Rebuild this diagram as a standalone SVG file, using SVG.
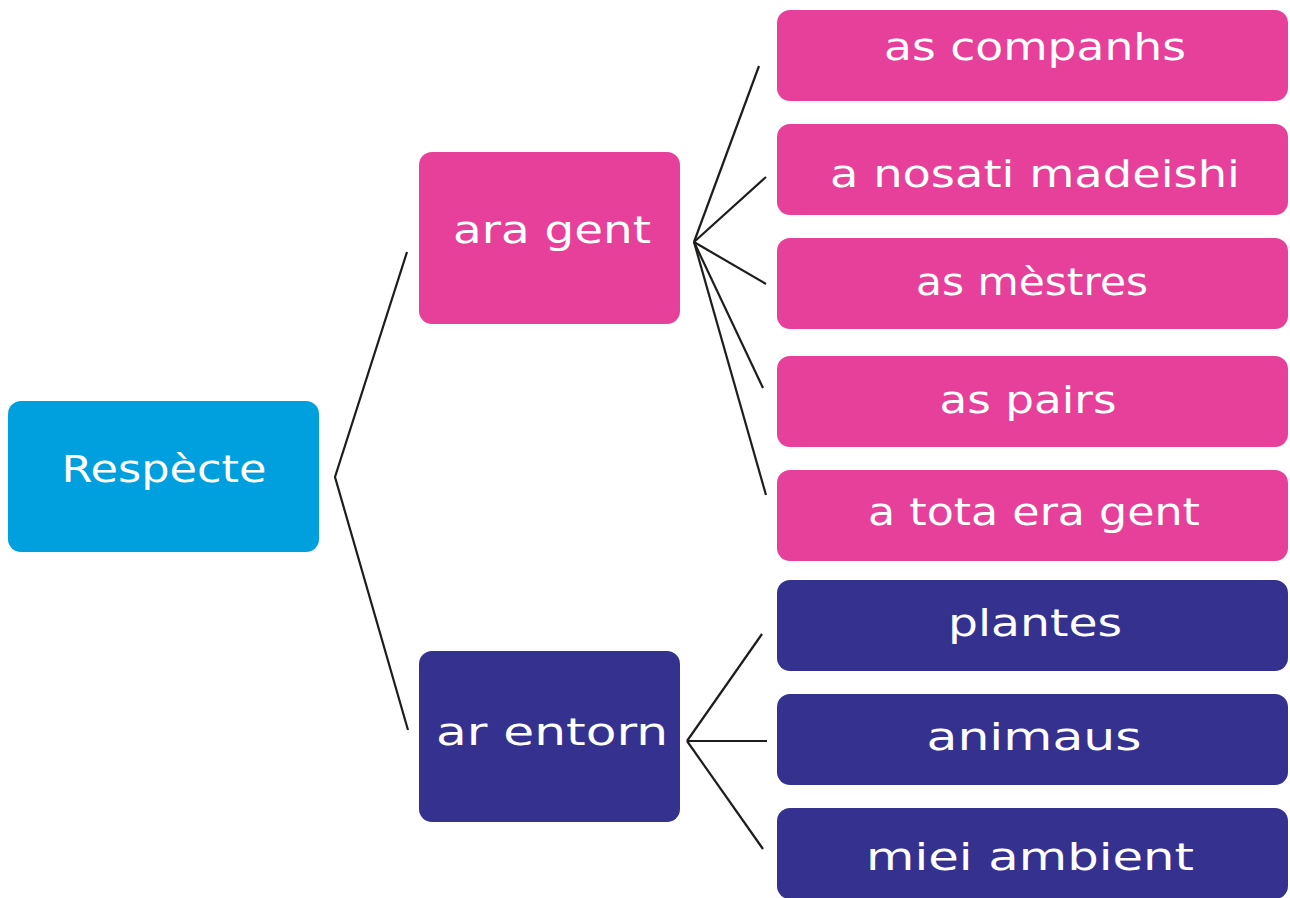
<svg xmlns="http://www.w3.org/2000/svg" width="1290" height="898" viewBox="0 0 1290 898">
<style>
.pink{fill:#E6409A}
.blue{fill:#009FDD}
.navy{fill:#35318F}
.lbl{fill:#fff;font-family:"DejaVu Sans","Liberation Sans",sans-serif;font-size:38px;text-anchor:middle}
.lnk{stroke:#1d1d1b;stroke-width:2.2;fill:none}
</style>
<rect width="1290" height="898" fill="#fff"/>
<g id="connectors">
<polyline class="lnk" points="407,252 335,477 408,730"/>
<line class="lnk" x1="694" y1="242" x2="759" y2="66"/>
<line class="lnk" x1="694" y1="242" x2="766" y2="177"/>
<line class="lnk" x1="694" y1="242" x2="766" y2="284"/>
<line class="lnk" x1="694" y1="242" x2="763" y2="388"/>
<line class="lnk" x1="694" y1="242" x2="766" y2="495"/>
<line class="lnk" x1="687" y1="741" x2="762" y2="634"/>
<line class="lnk" x1="687" y1="741" x2="767" y2="741"/>
<line class="lnk" x1="687" y1="741" x2="763" y2="849"/>
</g>
<g id="n-respecte"><rect class="blue" x="8" y="401" width="311" height="151" rx="13"/><text class="lbl" x="164" y="482" font-size="42" textLength="205" lengthAdjust="spacingAndGlyphs">Respècte</text></g>
<g id="n-ara-gent"><rect class="pink" x="419" y="152" width="261" height="172" rx="13"/><text class="lbl" x="552" y="243" textLength="198" lengthAdjust="spacingAndGlyphs">ara gent</text></g>
<g id="n-ar-entorn"><rect class="navy" x="419" y="651" width="261" height="171" rx="13"/><text class="lbl" x="552" y="745" textLength="232" lengthAdjust="spacingAndGlyphs">ar entorn</text></g>
<g id="n-companhs"><rect class="pink" x="777" y="10" width="511" height="91" rx="13"/><text class="lbl" x="1035" y="60" textLength="302" lengthAdjust="spacingAndGlyphs">as companhs</text></g>
<g id="n-nosati"><rect class="pink" x="777" y="124" width="511" height="91" rx="13"/><text class="lbl" x="1035" y="187" textLength="410" lengthAdjust="spacingAndGlyphs">a nosati madeishi</text></g>
<g id="n-mestres"><rect class="pink" x="777" y="238" width="511" height="91" rx="13"/><text class="lbl" x="1032" y="295" textLength="232" lengthAdjust="spacingAndGlyphs">as mèstres</text></g>
<g id="n-pairs"><rect class="pink" x="777" y="356" width="511" height="91" rx="13"/><text class="lbl" x="1028" y="413" textLength="177" lengthAdjust="spacingAndGlyphs">as pairs</text></g>
<g id="n-tota"><rect class="pink" x="777" y="470" width="511" height="91" rx="13"/><text class="lbl" x="1034" y="525" textLength="332" lengthAdjust="spacingAndGlyphs">a tota era gent</text></g>
<g id="n-plantes"><rect class="navy" x="777" y="580" width="511" height="91" rx="13"/><text class="lbl" x="1035" y="636" textLength="174" lengthAdjust="spacingAndGlyphs">plantes</text></g>
<g id="n-animaus"><rect class="navy" x="777" y="694" width="511" height="91" rx="13"/><text class="lbl" x="1034" y="750" textLength="215" lengthAdjust="spacingAndGlyphs">animaus</text></g>
<g id="n-miei"><rect class="navy" x="777" y="808" width="511" height="91" rx="13"/><text class="lbl" x="1030" y="870" textLength="328" lengthAdjust="spacingAndGlyphs">miei ambient</text></g>
</svg>
